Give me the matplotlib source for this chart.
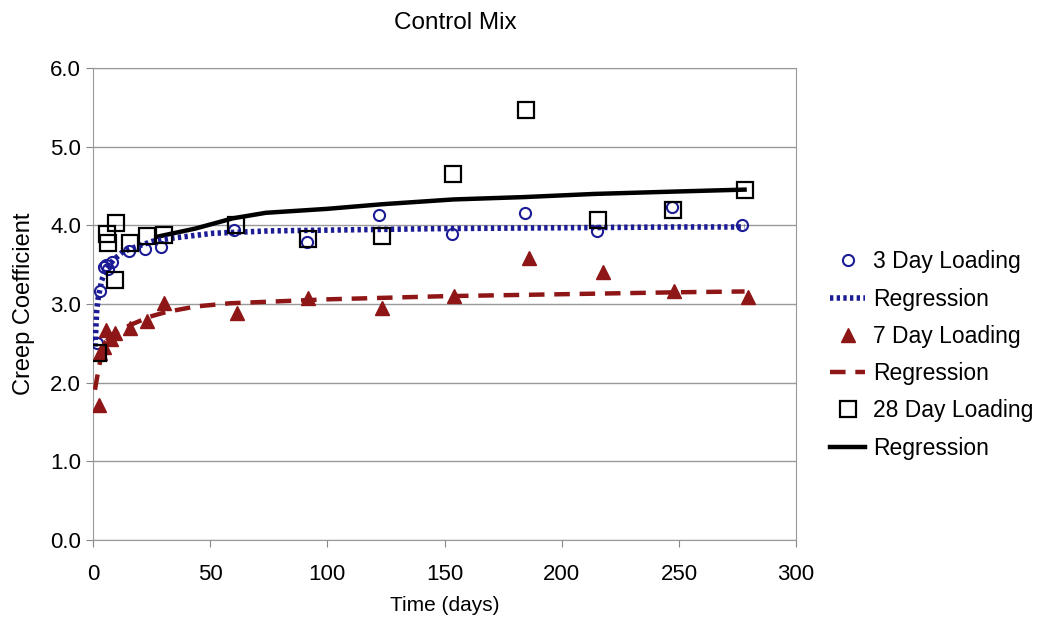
import matplotlib
matplotlib.use("Agg")
from matplotlib import pyplot as plt

plt.rcParams['font.family'] = ['Liberation Sans', 'DejaVu Sans']

# measured creep coefficients
t_3day = [1.6, 3.2, 4.6, 5.5, 6.6, 8.0, 15.2, 22.2, 29.2, 60.3, 91.1, 122.2, 153.2, 184.5, 214.9, 247.0, 277.0]
c_3day = [2.50, 3.16, 3.47, 3.50, 3.45, 3.54, 3.67, 3.70, 3.72, 3.94, 3.79, 4.13, 3.89, 4.16, 3.93, 4.24, 4.01]

t_7day = [2.6, 3.2, 4.6, 5.6, 7.6, 9.2, 16.0, 23.2, 30.2, 61.3, 91.7, 123.4, 154.2, 185.9, 217.5, 248.0, 279.6]
c_7day = [1.72, 2.38, 2.46, 2.67, 2.55, 2.63, 2.69, 2.78, 3.01, 2.88, 3.08, 2.95, 3.10, 3.58, 3.41, 3.16, 3.09]

t_28day = [2.0, 6.0, 6.3, 9.4, 9.8, 16.0, 23.2, 30.2, 61.1, 91.7, 123.4, 153.8, 184.9, 215.5, 247.3, 278.0]
c_28day = [2.38, 3.89, 3.77, 3.30, 4.03, 3.77, 3.87, 3.88, 4.01, 3.83, 3.87, 4.65, 5.47, 4.07, 4.19, 4.45]

# regression curves
t_reg3 = [0.85, 1.6, 2.3, 3.7, 5.8, 8.7, 13, 18.6, 25.7, 34.3, 51.3, 75, 100, 150, 200, 250, 278]
c_reg3 = [2.46, 2.92, 3.09, 3.30, 3.45, 3.56, 3.67, 3.73, 3.80, 3.84, 3.90, 3.93, 3.94, 3.96, 3.97, 3.98, 3.98]

t_reg7 = [0.85, 2.3, 4.4, 7.3, 11.5, 17.2, 24.3, 31.4, 44, 58.5, 100, 150, 200, 250, 278]
c_reg7 = [1.91, 2.16, 2.46, 2.59, 2.67, 2.75, 2.84, 2.90, 2.97, 3.01, 3.06, 3.10, 3.125, 3.15, 3.16]

t_reg28 = [28, 43.7, 59.7, 73.7, 99.7, 123.8, 153.8, 183.9, 213.9, 248, 278]
c_reg28 = [3.86, 3.96, 4.09, 4.16, 4.21, 4.27, 4.33, 4.36, 4.40, 4.43, 4.455]

blue = "#1c1c96"
red = "#8e1616"

fig = plt.figure(figsize=(10.47, 6.19), dpi=100)
ax = fig.add_axes([0.0888, 0.1276, 0.6716, 0.7624])

ax.plot(t_3day, c_3day, "o", ms=8, mfc="none", mec=blue, mew=1.5,
        label="3 Day Loading", zorder=4)
ax.plot(t_reg3, c_reg3, color=blue, lw=4, linestyle=(0, (0.6, 0.6)),
        label="Regression", zorder=3)
ax.plot(t_7day, c_7day, "^", ms=10, color=red, mec=red,
        label="7 Day Loading", zorder=4)
ax.plot(t_reg7, c_reg7, color=red, lw=3.2, linestyle=(0, (3.5, 2.2)),
        label="Regression", zorder=3)
ax.plot(t_28day, c_28day, "s", ms=11.5, mfc="none", mec="black", mew=1.6,
        label="28 Day Loading", zorder=4)
ax.plot(t_reg28, c_reg28, color="black", lw=3.2,
        label="Regression", zorder=2)

ax.set_xlim(0, 300)
ax.set_ylim(0, 6)
ax.set_xticks(range(0, 301, 50))
ax.set_yticks([i * 1.0 for i in range(7)])
ax.set_yticklabels(["%.1f" % (i * 1.0) for i in range(7)])
ax.tick_params(labelsize=16, color="#888888", length=5, direction="out")
ax.tick_params(axis="x", pad=12)
ax.grid(True, axis="y", color="#999999", lw=1)
for s in ax.spines.values():
    s.set_color("#999999")

ax.set_title("Control Mix", fontsize=17.5, pad=28, x=0.515)
ax.set_xlabel("Time (days)", fontsize=15, labelpad=8)
ax.set_ylabel("Creep Coefficient", fontsize=17, labelpad=11)

ax.legend(loc="center left", bbox_to_anchor=(1.048, 0.392), frameon=False,
          fontsize=16.5, handlelength=1.55, labelspacing=0.62, handletextpad=0.35,
          borderaxespad=0, borderpad=0)

fig.savefig("out.png", dpi=100)
